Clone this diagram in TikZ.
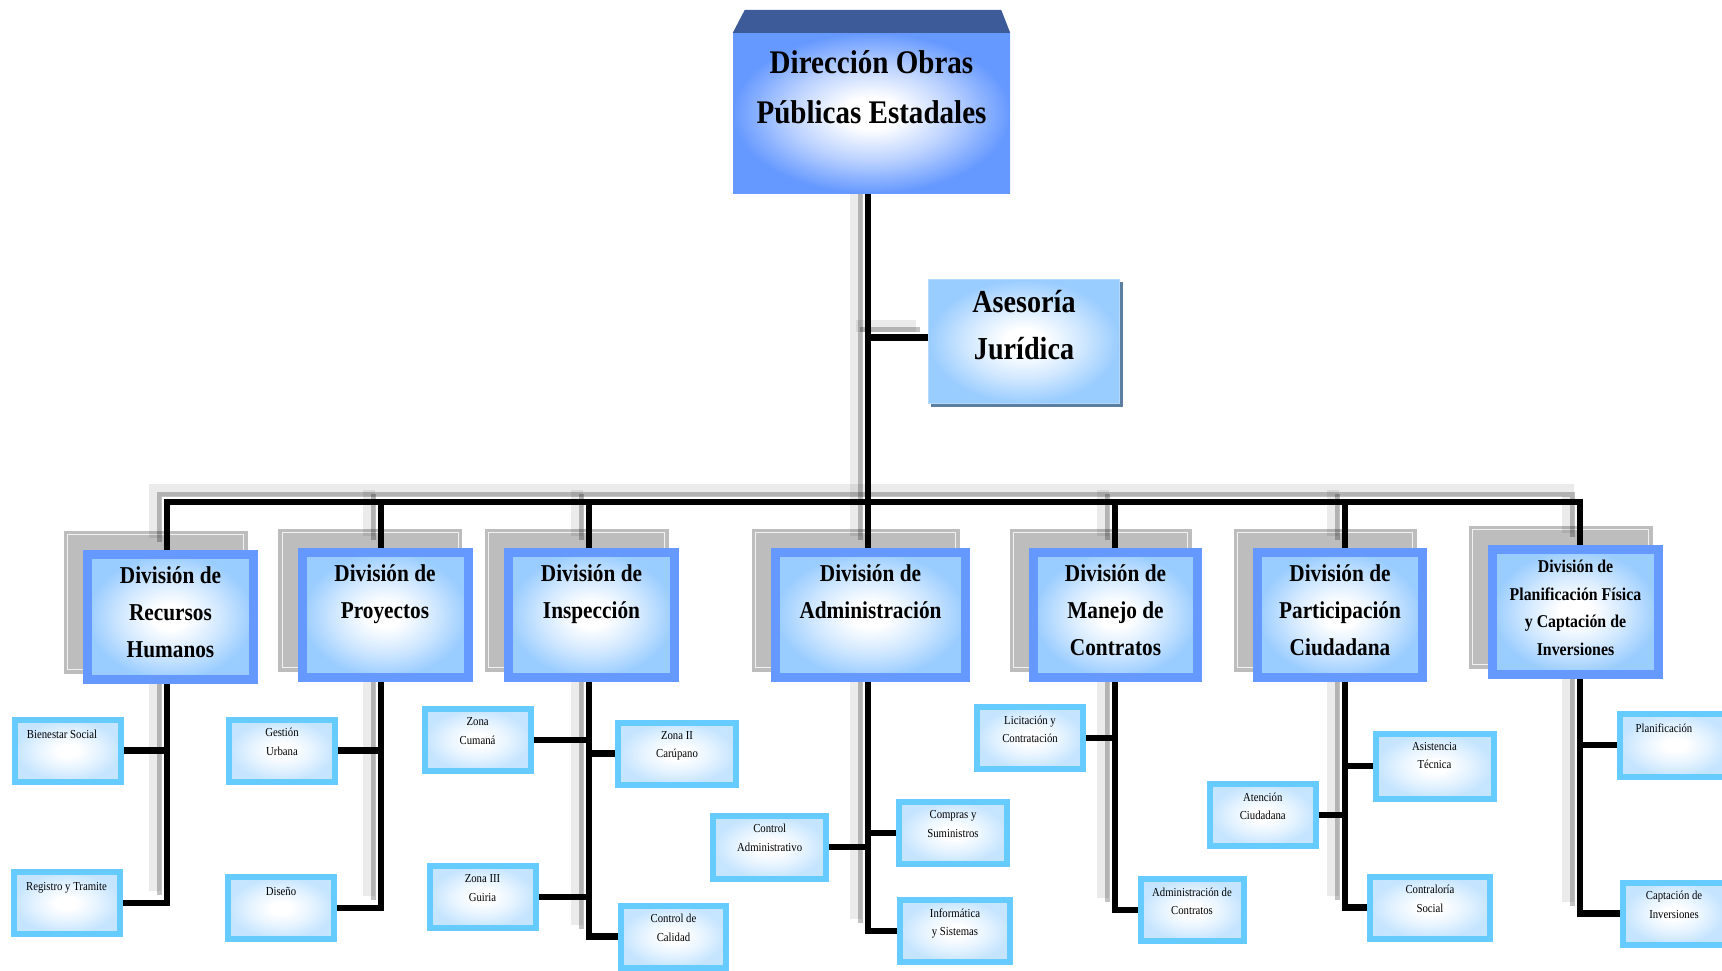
\documentclass[tikz,border=0pt]{standalone}
\usepackage{fontspec}
\setmainfont{Liberation Serif}
\newfontfamily\orgfont[FakeStretch=0.88]{Liberation Serif}
\usetikzlibrary{backgrounds, positioning}

\definecolor{roofblue}{HTML}{3D5B99}
\definecolor{topblue}{HTML}{6699FF}
\definecolor{divblue}{HTML}{6699FF}
\definecolor{divfill}{HTML}{99CCFF}
\definecolor{subblue}{HTML}{66CCFF}
\definecolor{subfill}{HTML}{C4E4FF}
\definecolor{backgray}{HTML}{BDBDBD}
\definecolor{ajshadow}{HTML}{5C7EA0}
\definecolor{ajline}{HTML}{B4D8FF}
\colorlet{topmid}{white!55!topblue}
\colorlet{divmid}{white!55!divfill}
\colorlet{submid}{white!55!subfill}

\pgfdeclareradialshading{topglow}{\pgfpoint{0bp}{0bp}}{color(0bp)=(white); color(5bp)=(white); color(15bp)=(topmid); color(25bp)=(topblue); color(50bp)=(topblue)}
\pgfdeclareradialshading{divglow}{\pgfpoint{0bp}{0bp}}{color(0bp)=(white); color(5bp)=(white); color(15bp)=(divmid); color(25bp)=(divfill); color(50bp)=(divfill)}
\pgfdeclareradialshading{subglow}{\pgfpoint{0bp}{0bp}}{color(0bp)=(white); color(5bp)=(white); color(15bp)=(submid); color(25bp)=(subfill); color(50bp)=(subfill)}

\tikzstyle{dirbox}=[rectangle, inner sep=0pt, shading=topglow]
\tikzstyle{ajbox}=[rectangle, inner sep=0pt, draw=ajline, line width=1pt, shading=divglow]
\tikzstyle{divbox}=[rectangle, inner sep=0pt, draw=divblue, line width=9pt, shading=divglow, minimum width=166pt, minimum height=125pt]
\tikzstyle{subbox}=[rectangle, inner sep=0pt, draw=subblue, line width=6pt, shading=subglow, minimum width=106pt, minimum height=62pt]
\tikzstyle{boxtext}=[align=center, anchor=north, inner sep=0pt, execute at begin node=\strut]
\tikzstyle{toptext}=[boxtext, font=\orgfont\bfseries\fontsize{33pt}{50pt}\selectfont]
\tikzstyle{ajtext}=[boxtext, font=\orgfont\bfseries\fontsize{32pt}{47pt}\selectfont]
\tikzstyle{divtext}=[boxtext, font=\orgfont\bfseries\fontsize{24.2pt}{37pt}\selectfont]
\tikzstyle{smalldivtext}=[boxtext, font=\orgfont\bfseries\fontsize{18pt}{27.5pt}\selectfont]
\tikzstyle{subtext}=[boxtext, font=\orgfont\fontsize{12.2pt}{18.7pt}\selectfont]
\tikzstyle{wire}=[line width=6.5pt, draw=black]
\tikzstyle{shadewide}=[line width=12pt, draw=black, opacity=0.08, transform canvas={shift={(-12pt,12pt)}}]
\tikzstyle{shadenarrow}=[line width=5pt, draw=black, opacity=0.24, transform canvas={shift={(-8pt,8pt)}}]

% trunk lines that cast a shadow
\newcommand{\orgtrunk}{%
  \draw (hub |- dir.south) -- (hub |- d4.north);
  \draw (hub |- ajin) -- (ajin);
  \draw (b1 |- d1.north) -- (b1) -- (b7) -- (b7 |- d7.north);
  \foreach \i in {2,3,5,6} \draw (b\i) -- (b\i |- d\i.north);
  \foreach \i/\e in {1/regi, 2/dise, 3/ccal, 4/info, 5/acon, 6/cont, 7/capt}
    \draw (b\i |- d\i.south) -- (b\i |- \e.center);
}

\begin{document}
\begin{tikzpicture}[x=1pt, y=-1pt]
  \clip (0,0) rectangle (1722,970);

  % head
  \node[dirbox, minimum width=277pt, minimum height=160pt] (dir) at (871.5,113) {};
  \fill[roofblue] ([shift={(12,-23)}]dir.north west) -- ([shift={(-9,-23)}]dir.north east)
    -- (dir.north east) -- (dir.north west) -- cycle;
  \node[toptext] (dir-t) at ([yshift=-17.6pt]dir.north) {Dirección Obras\\Públicas Estadales};

  \node[ajbox, minimum width=191pt, minimum height=124pt] (aj) at (1024,341.5) {};
  \node[ajtext] (aj-t) at ([yshift=-10.6pt]aj.north) {Asesoría\\Jurídica};

  % divisions
  \node[divbox] (d1) at (170.5,617) {};
  \node[divbox] (d2) at (385,615) {};
  \node[divbox] (d3) at (591.5,615) {};
  \node[divbox, minimum width=190pt] (d4) at (870.5,615) {};
  \node[divbox, minimum width=164pt] (d5) at (1115.5,615) {};
  \node[divbox, minimum width=165pt] (d6) at (1340,615) {};
  \node[divbox] (d7) at (1575.5,612) {};

  \node[divtext] (d1-t) at ([yshift=-16.6pt]d1.north) {División de\\Recursos\\Humanos};
  \node[divtext] (d2-t) at ([yshift=-16.6pt]d2.north) {División de\\Proyectos};
  \node[divtext] (d3-t) at ([yshift=-16.6pt]d3.north) {División de\\Inspección};
  \node[divtext] (d4-t) at ([yshift=-16.6pt]d4.north) {División de\\Administración};
  \node[divtext] (d5-t) at ([yshift=-16.6pt]d5.north) {División de\\Manejo de\\Contratos};
  \node[divtext] (d6-t) at ([yshift=-16.6pt]d6.north) {División de\\Participación\\Ciudadana};
  \node[smalldivtext] (d7-t) at ([yshift=-15.2pt]d7.north) {División de\\Planificación Física\\y Captación de\\Inversiones};

  % units
  \node[subbox] (bien) at (68,750.5) {};
  \node[subbox] (regi) at (66.5,903) {};
  \node[subbox] (gest) at (282,750.5) {};
  \node[subbox] (dise) at (281,908) {};
  \node[subbox] (zcum) at (477.6,740) {};
  \node[subbox, minimum width=118pt] (zcar) at (677,753.5) {};
  \node[subbox] (zgui) at (482.5,897) {};
  \node[subbox, minimum width=105pt] (ccal) at (673.5,936.6) {};
  \node[subbox, minimum width=113pt, minimum height=63pt] (cadm) at (769.7,847) {};
  \node[subbox, minimum width=108pt] (comp) at (953,833) {};
  \node[subbox, minimum width=110pt] (info) at (955,931) {};
  \node[subbox] (lici) at (1030,738) {};
  \node[subbox, minimum width=103pt] (acon) at (1192,910) {};
  \node[subbox, minimum width=118pt, minimum height=65pt] (asis) at (1434.5,766) {};
  \node[subbox] (aten) at (1262.7,815) {};
  \node[subbox, minimum width=120pt] (cont) at (1430,907.5) {};
  \node[subbox, minimum width=110pt, minimum height=63pt] (plan) at (1675,745) {};
  \node[subbox, minimum width=102pt] (capt) at (1674,913.5) {};

  \node[subtext] (bien-t) at ([xshift=-6pt, yshift=-8.4pt]bien.north) {Bienestar Social};
  \node[subtext] (regi-t) at ([yshift=-8.4pt]regi.north) {Registro y Tramite};
  \node[subtext] (gest-t) at ([yshift=-11.4pt]gest.north) {Gestión\\Urbana};
  \node[subtext] (dise-t) at ([yshift=-8.4pt]dise.north) {Diseño};
  \node[subtext] (zcum-t) at ([yshift=-11.4pt]zcum.north) {Zona\\Cumaná};
  \node[subtext] (zcar-t) at ([yshift=-11.4pt]zcar.north) {Zona II\\Carúpano};
  \node[subtext] (zgui-t) at ([yshift=-11.4pt]zgui.north) {Zona III\\Guiria};
  \node[subtext] (ccal-t) at ([yshift=-11.4pt]ccal.north) {Control de\\Calidad};
  \node[subtext] (cadm-t) at ([yshift=-11.4pt]cadm.north) {Control\\Administrativo};
  \node[subtext] (comp-t) at ([yshift=-11.4pt]comp.north) {Compras y\\Suministros};
  \node[subtext] (info-t) at ([yshift=-11.4pt]info.north) {Informática\\y Sistemas};
  \node[subtext] (lici-t) at ([yshift=-11.4pt]lici.north) {Licitación y\\Contratación};
  \node[subtext] (acon-t) at ([yshift=-11.4pt]acon.north) {Administración de\\Contratos};
  \node[subtext] (asis-t) at ([yshift=-11.4pt]asis.north) {Asistencia\\Técnica};
  \node[subtext] (aten-t) at ([yshift=-11.4pt]aten.north) {Atención\\Ciudadana};
  \node[subtext] (cont-t) at ([yshift=-11.4pt]cont.north) {Contraloría\\Social};
  \node[subtext] (plan-t) at ([xshift=-11pt, yshift=-8.4pt]plan.north) {Planificación};
  \node[subtext] (capt-t) at ([yshift=-11.4pt]capt.north) {Captación de\\Inversiones};

  \begin{pgfonlayer}{background}
    \fill[ajshadow] ([shift={(3,3)}]aj.north west) rectangle ([shift={(3,3)}]aj.south east);
    \foreach \d in {d1,d2,d3,d4,d5,d6,d7} {
      \fill[backgray] ([shift={(-19.5,-19.5)}]\d.north west) rectangle ([shift={(-10.5,-10.5)}]\d.south east);
      \draw[white, line width=0.7pt, opacity=0.8] ([shift={(-15.5,-15.5)}]\d.north west)
        rectangle ([shift={(-14.5,-14.5)}]\d.south east);
    }

    \coordinate (hub) at (868,502);
    \coordinate (ajin) at ([yshift=4pt]aj.west);
    \foreach \i/\x in {1/167, 2/381, 3/589, 4/868, 5/1115, 6/1345, 7/1580}
      \coordinate (b\i) at (\x,502);

    \begin{scope}[shadewide] \orgtrunk \end{scope}
    \begin{scope}[shadenarrow] \orgtrunk \end{scope}

    \begin{scope}[wire]
      \draw (hub |- dir.south) -- (hub |- d4.north);
      \draw (hub |- ajin) -- (ajin);
      \draw (b1 |- d1.north) -- (b1) -- (b7) -- (b7 |- d7.north);
      \foreach \i in {2,3,5,6} \draw (b\i) -- (b\i |- d\i.north);
      \foreach \i/\e/\a in {1/regi/east, 2/dise/east, 3/ccal/west, 4/info/west, 5/acon/west, 6/cont/west, 7/capt/west}
        \draw (b\i |- d\i.south) -- (b\i |- \e.\a) -- (\e.\a);
      \foreach \n/\i/\a in {bien/1/east, gest/2/east, zcum/3/east, zcar/3/west, zgui/3/east,
                            cadm/4/east, comp/4/west, lici/5/east, asis/6/west, aten/6/east, plan/7/west}
        \draw (\n.\a) -- (\n.\a -| b\i);
    \end{scope}
  \end{pgfonlayer}
\end{tikzpicture}
\end{document}
